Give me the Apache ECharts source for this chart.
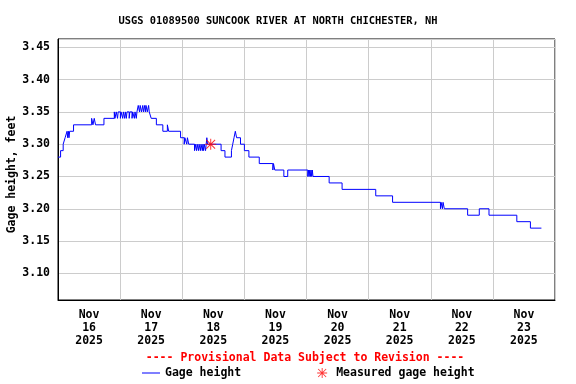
<!DOCTYPE html>
<html>
<head>
<meta charset="utf-8">
<script src="https://cdn.jsdelivr.net/npm/echarts@6/dist/echarts.min.js"></script>
<style>html,body{margin:0;padding:0;background:#fff;}#c{width:576px;height:384px;}</style>
</head>
<body>
<div id="c"></div>
<script>
// ---- data ----
const titleText = 'USGS 01089500 SUNCOOK RIVER AT NORTH CHICHESTER, NH';
const provisionalText = '---- Provisional Data Subject to Revision ----';
const monthLabel = 'Nov';
const dayLabels = [16, 17, 18, 19, 20, 21, 22, 23];
const yearLabel = '2025';
const yTicks = [3.10, 3.15, 3.20, 3.25, 3.30, 3.35, 3.40, 3.45];
// hours since Nov 16 2025 00:00
const gageHours = [
  0, 1.0, 2.0, 2.75, 3.5, 3.75, 4.0, 4.25, 4.5, 6.0,
  13.0, 13.5, 14.0, 14.5, 17.75, 21.75, 22.0, 22.5, 23.0, 23.25,
  24.1, 24.35, 25.0, 25.25, 25.75, 26.0, 26.4, 26.65, 27.5, 27.75,
  28.6, 28.85, 29.5, 29.75, 30.25, 30.5,
  31.0, 31.5, 31.75, 32.25, 32.75, 33.0, 33.5, 33.75, 34.0, 34.5, 35.0, 35.25,
  36.0, 38.0, 40.5, 42.25, 42.75, 47.35, 48.75, 49.0, 49.75, 50.0, 50.5,
  52.75, 53.0, 53.5, 53.75, 54.25, 54.5, 55.0, 55.25, 55.75, 56.0, 56.25, 56.5, 57.0, 57.25,
  57.5, 57.75,
  63.0, 64.5, 67.0, 67.5, 68.0, 68.5, 69.0, 70.5, 72.0, 73.75, 77.75,
  83.0, 83.25, 83.75, 87.25, 88.75,
  96.5, 96.75, 97.0, 97.25, 97.5, 97.75, 98.0, 98.25, 98.5,
  104.75, 109.75, 122.75, 129.25,
  147.75, 148.0, 148.5, 148.75, 149.25,
  158.25, 162.75, 166.5, 177.25, 182.5, 186.75
];
const gageFeet = [
  3.28, 3.29, 3.30, 3.31, 3.32, 3.31, 3.32, 3.31, 3.32, 3.33,
  3.34, 3.33, 3.34, 3.33, 3.34, 3.35, 3.34, 3.35, 3.34, 3.35,
  3.34, 3.35, 3.34, 3.35, 3.34, 3.35, 3.34, 3.35, 3.34, 3.35,
  3.34, 3.35, 3.34, 3.35, 3.34, 3.35,
  3.36, 3.35, 3.36, 3.35, 3.36, 3.35, 3.36, 3.35, 3.36, 3.35, 3.36, 3.35,
  3.34, 3.33, 3.32, 3.33, 3.32, 3.31, 3.30, 3.31, 3.30, 3.31, 3.30,
  3.29, 3.30, 3.29, 3.30, 3.29, 3.30, 3.29, 3.30, 3.29, 3.30, 3.29, 3.30, 3.29, 3.30,
  3.31, 3.30,
  3.29, 3.28, 3.29, 3.30, 3.31, 3.32, 3.31, 3.30, 3.29, 3.28, 3.27,
  3.26, 3.27, 3.26, 3.25, 3.26,
  3.25, 3.26, 3.25, 3.26, 3.25, 3.26, 3.25, 3.26, 3.25,
  3.24, 3.23, 3.22, 3.21,
  3.20, 3.21, 3.20, 3.21, 3.20,
  3.19, 3.20, 3.19, 3.18, 3.17, 3.17
];
const measuredHours = [59.0];
const measuredFeet = [3.30];

// ---- build ----
const categories = dayLabels.map(d => monthLabel + '\n' + d + '\n' + yearLabel);
const gageData = gageHours.map((h, i) => [h, gageFeet[i]]);
const measuredData = measuredHours.map((h, i) => [h, measuredFeet[i]]);
const FONT = "'DejaVu Sans Mono', 'Liberation Mono', monospace";
const asterisk = 'path://M0,9.1L20,9.1L20,10.9L0,10.9Z M9.1,0L10.9,0L10.9,20L9.1,20Z M1.4,2.7L2.7,1.4L18.6,17.3L17.3,18.6Z M17.3,1.4L18.6,2.7L2.7,18.6L1.4,17.3Z';
const lineIcon = 'path://M0,0L0.01,0L0,0.01Z M0,4.5L18,4.5L18,5.5L0,5.5Z M18,10L17.99,10L18,9.99Z';

const chart = echarts.init(document.getElementById('c'), null, {renderer: 'canvas'});
chart.setOption({
  animation: false,
  backgroundColor: '#ffffff',
  title: [
    {text: titleText, left: 273, top: 11, textAlign: 'center',
     textStyle: {fontFamily: FONT, fontSize: 10.4, fontWeight: 'bold', color: '#000'}},
    {text: provisionalText, left: 300, top: 347, textAlign: 'center',
     textStyle: {fontFamily: FONT, fontSize: 11.5, fontWeight: 'bold', color: '#ff0000'}}
  ],
  legend: {
    left: 137, top: 362, itemGap: 76, itemWidth: 18, itemHeight: 10,
    selectedMode: false,
    textStyle: {fontFamily: FONT, fontSize: 11.5, fontWeight: 'bold', color: '#000'},
    data: [
      {name: 'Gage height', icon: lineIcon, itemStyle: {color: '#0000ff', borderWidth: 0}},
      {name: 'Measured gage height', icon: asterisk, itemStyle: {color: '#ff0000', borderWidth: 0}}
    ]
  },
  grid: {left: 58, right: 21, top: 39, bottom: 84, show: true, borderColor: '#000', borderWidth: 1,
         backgroundColor: 'transparent', containLabel: false, outerBoundsMode: 'none'},
  xAxis: [
    {type: 'category', data: categories, boundaryGap: true,
     axisLine: {show: true, lineStyle: {color: '#000'}},
     axisTick: {show: false},
     axisLabel: {fontFamily: FONT, fontSize: 11.5, fontWeight: 'bold', color: '#000', lineHeight: 13.3, margin: 8},
     splitLine: {show: true, lineStyle: {color: '#cccccc', width: 1}}},
    {type: 'value', min: 0, max: 192, show: false}
  ],
  yAxis: {
    type: 'value', min: 3.0587, max: 3.4629, splitNumber: 8,
    name: 'Gage height, feet', nameLocation: 'middle', nameGap: 40, nameMoveOverlap: false,
    nameTextStyle: {fontFamily: FONT, fontSize: 11.5, fontWeight: 'bold', color: '#000', padding: [0, 10, 0, 0]},
    axisLine: {show: true, lineStyle: {color: '#000'}},
    axisTick: {show: false},
    axisLabel: {fontFamily: FONT, fontSize: 11.5, fontWeight: 'bold', color: '#000', margin: 8,
      showMinLabel: false, showMaxLabel: false,
      formatter: function (v) {
        const hit = yTicks.some(t => Math.abs(t - v) < 1e-6);
        return hit ? v.toFixed(2) : '';
      }},
    splitLine: {show: true, lineStyle: {color: '#cccccc', width: 1}}
  },
  series: [
    {name: 'Gage height', type: 'line', xAxisIndex: 1, data: gageData, step: 'end',
     symbol: 'none', showSymbol: false, lineStyle: {color: '#0000ff', width: 1}, itemStyle: {color: '#0000ff'}, z: 2},
    {name: 'Measured gage height', type: 'scatter', xAxisIndex: 1, data: measuredData,
     symbol: asterisk, symbolSize: 11, symbolKeepAspect: true, itemStyle: {color: '#ff0000'}, z: 3}
  ]
});
</script>
</body>
</html>
